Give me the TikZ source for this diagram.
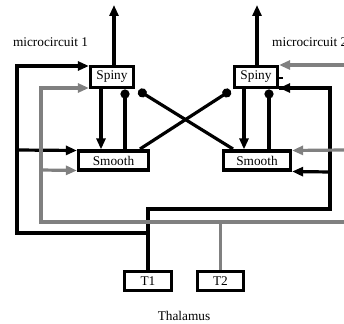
\documentclass[tikz,border=0pt]{standalone}
\usepackage{fontspec}
\setmainfont{Liberation Serif}
\usetikzlibrary{arrows.meta,calc}
\definecolor{greyline}{RGB}{128,128,128}
\begin{document}
\begin{tikzpicture}[x=1pt,y=1pt,
  font=\fontsize{13.3}{15}\selectfont,
  box/.style={draw=black,line width=3.2pt,fill=white,inner sep=0pt},
  blk/.style={draw=black,line width=3.2pt},
  gry/.style={draw=greyline,line width=3.2pt},
  arr/.style={-{Triangle[length=11pt,width=9pt]}},
  dotend/.style={-{Circle[length=9pt,width=9pt]}}
]
\useasboundingbox (0,0) rectangle (344,-323);
% boxes
\node[box,minimum width=43,minimum height=21] (sp1) at (112,-77) {Spiny};
\node[box,minimum width=43,minimum height=21] (sp2) at (256,-77) {Spiny};
\node[box,minimum width=70,minimum height=19] (sm1) at (113.5,-160.5) {Smooth};
\node[box,minimum width=67,minimum height=19] (sm2) at (257,-160.5) {Smooth};
\node[box,minimum width=47,minimum height=19] (t1) at (148,-281) {T1};
\node[box,minimum width=46,minimum height=19] (t2) at (220.5,-281) {T2};
% labels
\node (mc1) at (50.5,-42) {microcircuit 1};
\node[anchor=west,inner sep=0pt] (mc2) at (272,-42) {microcircuit 2};
\node (thal) at (184,-316) {Thalamus};
% outputs
\coordinate (o1) at (114,-5);
\coordinate (o2) at (257,-5);
\draw[blk,arr] (sp1.north -| o1) -- (o1);
\draw[blk,arr] (sp2.north -| o2) -- (o2);
% internal connections
\draw[blk,arr] (sp1.south -| 101,0) -- (sm1.north -| 101,0);
\draw[blk,dotend] (sm1.north -| 125,0) -- (125,-89.5);
\draw[blk,arr] (sp2.south -| 244,0) -- (sm2.north -| 244,0);
\draw[blk,dotend] (sm2.north -| 269,0) -- (269,-89.5);
% crossing inhibitory lines
\draw[blk,dotend] (140,-149) -- (230.5,-90.5);
\draw[blk,dotend] (233,-149) -- (138.5,-90.5);
% thalamic black connections
\coordinate (j1) at (148,-209);
\coordinate (j2) at (148,-233);
\coordinate (l1) at (17,-233);
\coordinate (r1) at (330,-209);
\draw[blk] (t1.north) -- (j1) -- (r1) |- ($(sp2.east)+(0,-11)$);
\draw[blk,arr] (330,-88) -- ($(sp2.east)+(0,-11)$);
\draw[blk,arr] (330,-172) -- ($(sm2.east)+(0,-11)$);
\draw[blk] (j2) -- (l1) -- (17,-66);
\draw[blk,arr] (15.4,-66) -- ($(sp1.west)+(0,11)$);
\draw[blk,arr] (17,-150) -- ($(sm1.west)+(0,10)$);
% small tick on right spiny
\draw[black,line width=2.4pt] (sp2.east) ++(0,-1) -- ++(4,0);
% thalamic grey connections
\coordinate (g1) at (344,-222);
\coordinate (g2) at (41,-222);
\draw[gry] (t2.north) -- (t2.north |- g1);
\draw[gry] (g1) -- (g2) -- (41,-88);
\draw[gry,arr] (39.4,-88) -- ($(sp1.west)+(0,-11)$);
\draw[gry,arr] (41,-170) -- ($(sm1.west)+(0,-10)$);
\draw[gry,arr] (344,-65) -- ($(sp2.east)+(0,12)$);
\draw[gry,arr] (344,-150) -- ($(sm2.east)+(0,10)$);
\end{tikzpicture}
\end{document}
